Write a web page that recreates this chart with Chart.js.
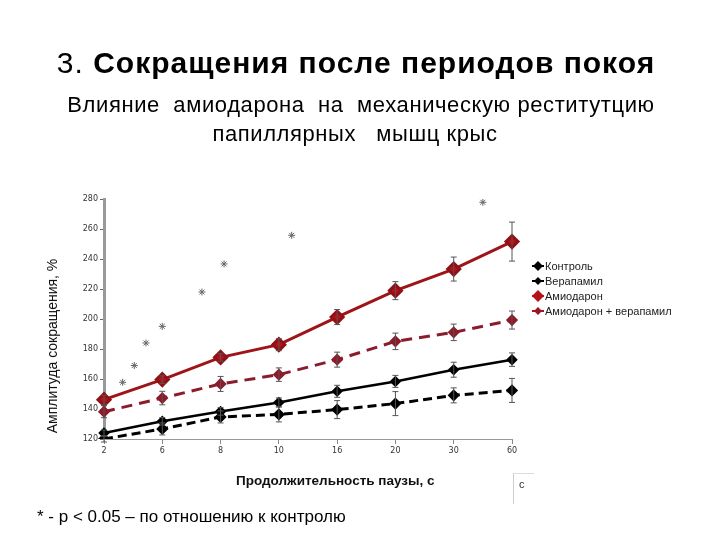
<!DOCTYPE html>
<html>
<head>
<meta charset="utf-8">
<script src="https://cdn.jsdelivr.net/npm/chart.js@4/dist/chart.umd.min.js"></script>
<style>
  html,body{margin:0;padding:0;background:#fff;}
  #wrap{position:relative;width:720px;height:540px;overflow:hidden;font-family:"Liberation Sans",Arial,sans-serif;}
  canvas{position:absolute;left:0;top:0;}
  .t{position:absolute;white-space:pre;color:#000;}
</style>
</head>
<body>
<div id="wrap">
  <canvas id="c" width="720" height="540"></canvas>
  <div class="t" style="left:0;width:712px;text-align:center;top:46px;font-size:30px;letter-spacing:1px;">3. <b>Сокращения после периодов покоя</b></div>
  <div class="t" style="left:0;width:722px;text-align:center;top:92px;font-size:22px;letter-spacing:0.6px;">Влияние  амиодарона  на  механическую реститутцию</div>
  <div class="t" style="left:0;width:710px;text-align:center;top:121px;font-size:22px;letter-spacing:0.6px;">папиллярных   мышц крыс</div>
  <div class="t" style="left:-38px;top:338px;width:180px;text-align:center;transform:rotate(-90deg);font-size:14px;color:#111;">Амплитуда сокращения, %</div>
  <div class="t" style="left:236px;top:473px;font-size:13.5px;font-weight:bold;color:#111;">Продолжительность паузы, с</div>
  <div style="position:absolute;left:513px;top:473px;width:20px;height:30px;border-left:1px solid #ccc;border-top:1px solid #ddd;"></div>
  <div class="t" style="left:519px;top:478px;font-size:11px;color:#333;">c</div>
  <div class="t" style="left:37px;top:507px;font-size:17px;">* - p &lt; 0.05 – по отношению к контролю</div>
</div>
<script>
const categories = ["2","6","8","10","16","20","30","60"];
const seriesNames = ["Контроль","Верапамил","Амиодарон","Амиодарон + верапамил"];
const control      = [124, 131.8, 138.4, 144.4, 151.8, 158.4, 166.2, 172.9];
const controlErr   = [2, 2.5, 2.5, 3, 4, 4, 5, 4.5];
const verapamil    = [120, 126.7, 134.7, 136.4, 139.6, 143.6, 149.1, 152.4];
const verapamilErr = [2, 4, 4, 5, 6, 8, 5, 8];
const amio         = [146.2, 159.6, 174.4, 182.9, 201.3, 218.9, 233.3, 251.6];
const amioErr      = [3, 2.5, 2.5, 4, 5, 6, 8, 13];
const amioVera     = [138.2, 147.3, 156.7, 162.9, 172.9, 185.1, 191.1, 199.3];
const amioVeraErr  = [4, 4.5, 5, 4.5, 5, 5.5, 5.5, 6];
const starX = [0.32, 0.52, 0.72, 1.0, 1.68, 2.06, 3.22, 6.5];
const starY = [157.8, 169, 184, 195.1, 218, 236.7, 255.8, 277.8];
const yTicks = [120,140,160,180,200,220,240,260,280];

const errMap = {0: controlErr, 1: verapamilErr, 2: amioErr, 3: amioVeraErr};

const errorBars = {
  id: 'errorBars',
  afterDatasetsDraw(chart) {
    const ctx = chart.ctx;
    const y = chart.scales.y;
    ctx.save();
    ctx.strokeStyle = '#555';
    ctx.lineWidth = 1;
    Object.keys(errMap).forEach(k => {
      const i = +k;
      const meta = chart.getDatasetMeta(i);
      const data = chart.data.datasets[i].data;
      meta.data.forEach((pt, j) => {
        const e = errMap[i][j];
        const y1 = y.getPixelForValue(data[j] - e);
        const y2 = y.getPixelForValue(data[j] + e);
        const x = pt.x;
        ctx.beginPath();
        ctx.moveTo(x, y1); ctx.lineTo(x, y2);
        ctx.moveTo(x - 3, y1); ctx.lineTo(x + 3, y1);
        ctx.moveTo(x - 3, y2); ctx.lineTo(x + 3, y2);
        ctx.stroke();
      });
    });
    ctx.restore();
  }
};

const customLegend = {
  id: 'customLegend',
  afterDraw(chart) {
    const ctx = chart.ctx;
    ctx.save();
    ctx.font = '11px "Liberation Sans", Arial, sans-serif';
    ctx.textBaseline = 'middle';
    const ys = [266, 281, 296, 311];
    for (let i = 0; i < 4; i++) {
      const ds = chart.data.datasets[i];
      const cx = 538, cy = ys[i];
      const r = ds.legendR;
      ctx.fillStyle = ds.pointBackgroundColor;
      ctx.beginPath();
      ctx.moveTo(cx, cy - r); ctx.lineTo(cx + r, cy); ctx.lineTo(cx, cy + r); ctx.lineTo(cx - r, cy); ctx.closePath();
      ctx.fill();
      ctx.fillRect(cx - 6, cy - 1, 12, 2);
      ctx.fillStyle = '#222';
      ctx.fillText(ds.label, 545, cy + 0.5);
    }
    ctx.restore();
  }
};

new Chart(document.getElementById('c'), {
  type: 'line',
  data: {
    labels: categories,
    datasets: [
      { label: seriesNames[0], data: control, borderColor: '#000', backgroundColor: '#000',
        pointBackgroundColor: '#000', pointBorderColor: '#000', borderWidth: 2.5,
        pointStyle: 'rectRot', pointRadius: 4, legendR: 5, tension: 0 },
      { label: seriesNames[1], data: verapamil, borderColor: '#000', backgroundColor: '#000',
        pointBackgroundColor: '#000', pointBorderColor: '#000', borderWidth: 3, borderDash: [9, 5],
        pointStyle: 'rectRot', pointRadius: 4, legendR: 4, tension: 0 },
      { label: seriesNames[2], data: amio, borderColor: '#9e1418', backgroundColor: '#b5121b',
        pointBackgroundColor: '#b5121b', pointBorderColor: '#8e1116', borderWidth: 3,
        pointStyle: 'rectRot', pointRadius: 6, legendR: 6, tension: 0 },
      { label: seriesNames[3], data: amioVera, borderColor: '#8a1c2c', backgroundColor: '#9e1420',
        pointBackgroundColor: '#9e1420', pointBorderColor: '#8a1c2c', borderWidth: 3, borderDash: [11, 7],
        pointStyle: 'rectRot', pointRadius: 4, legendR: 4, tension: 0 },
      { label: '*', type: 'scatter', xAxisID: 'xs',
        data: starX.map((x, i) => ({x: x, y: starY[i]})),
        pointStyle: 'star', pointRadius: 3.5, borderColor: '#666', backgroundColor: '#666', borderWidth: 1, showLine: false }
    ]
  },
  options: {
    responsive: false,
    animation: false,
    events: [],
    layout: { padding: { left: 0, top: 199, right: 208, bottom: 80 } },
    plugins: { legend: { display: false }, tooltip: { enabled: false }, title: { display: false } },
    scales: {
      x: {
        type: 'category',
        offset: false,
        grid: { display: true, drawOnChartArea: false, drawTicks: true, tickLength: 5, color: '#888' },
        border: { display: true, color: '#999', width: 1 },
        ticks: { color: '#333', font: { size: 8, family: '"DejaVu Sans", sans-serif' }, padding: 2, maxRotation: 0, autoSkip: false },
        afterFit(s) { s.height = 21; }
      },
      xs: { type: 'linear', display: false, min: 0, max: 7 },
      y: {
        min: 120, max: 280,
        afterBuildTicks(s) { s.ticks = yTicks.map(v => ({value: v})); },
        grid: { display: true, drawOnChartArea: false, drawTicks: true, tickLength: 4, color: '#666' },
        border: { display: true, color: '#999', width: 3 },
        ticks: { color: '#333', font: { size: 8, family: '"DejaVu Sans", sans-serif' }, padding: 2,
          callback: v => String(v) },
        afterFit(s) { s.width = 104; }
      }
    }
  },
  plugins: [errorBars, customLegend]
});
</script>
</body>
</html>
